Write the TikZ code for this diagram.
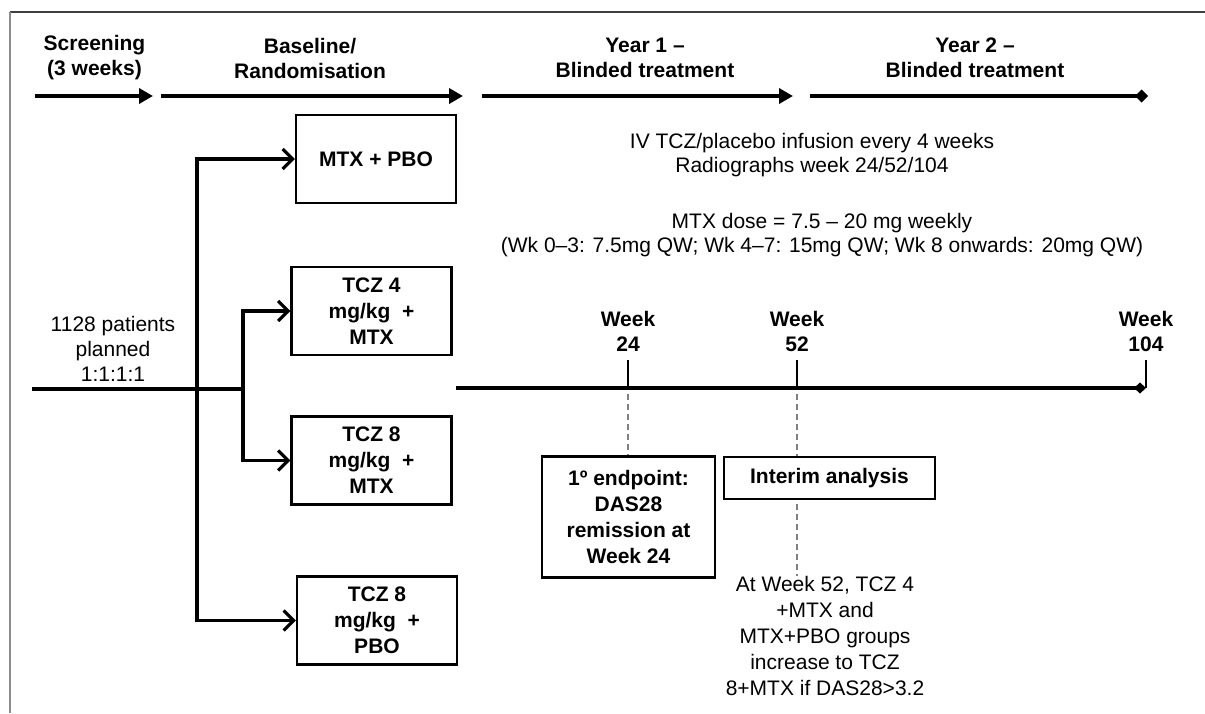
\documentclass[tikz,border=0pt]{standalone}
\usepackage{fontspec}
\setmainfont{Liberation Sans}
\usetikzlibrary{positioning,arrows.meta}

\begin{document}
\begin{tikzpicture}[x=1pt,y=-1pt,node distance=4pt,
  txt/.style={font=\fontsize{21}{25}\selectfont,align=center,inner sep=0pt},
  btxt/.style={font=\fontsize{21}{25}\selectfont\bfseries,align=center,inner sep=0pt},
  armbox/.style={rectangle,draw,line width=2.2pt,minimum width=160pt,minimum height=88pt,font=\fontsize{21}{26}\selectfont\bfseries,align=center,inner sep=2pt},
  notebox/.style={rectangle,draw,line width=2.2pt,font=\fontsize{21}{26}\selectfont\bfseries,align=center,inner sep=2pt},
  phasearrow/.style={line width=4.5pt,-{Triangle[length=14pt,width=15pt]}},
  branch/.style={line width=3.2pt,-{Straight Barb[length=10pt,width=20pt]}},
  dashline/.style={gray,line width=1.2pt,dash pattern=on 6pt off 4pt}]
\useasboundingbox (0,0) rectangle (1205,713);

% frame
\draw[black!75,line width=1.6pt] (10,12) -- (1205,12);
\draw[black!45,line width=1.6pt] (10,12) -- (10,713);

% phases along the top
\node[btxt] (screen) at (94.5,58) {Screening\\(3 weeks)};
\node[btxt] (base) at (310,58) {Baseline/\\Randomisation};
\node[btxt] (yearA) at (645,58) {Year 1 --\\Blinded treatment};
\node[btxt] (yearB) at (975,58) {Year 2 --\\Blinded treatment};

\coordinate (pa0) at (35,96);  \coordinate (pa1) at (153,96);
\coordinate (pb0) at (161,96); \coordinate (pb1) at (463,96);
\coordinate (pc0) at (482,96); \coordinate (pc1) at (793,96);
\coordinate (pd0) at (810,96); \coordinate (pd1) at (1148,96);
\draw[phasearrow] (pa0) -- (pa1);
\draw[phasearrow] (pb0) -- (pb1);
\draw[phasearrow] (pc0) -- (pc1);
\draw[line width=4.5pt,-{Diamond[length=13pt,width=13pt]}] (pd0) -- (pd1);

% randomisation
\node[txt] (pts) at (113,349) {1128 patients\\planned\\1:1:1:1};
\coordinate (start) at (32,389);
\coordinate (jA) at (197,389);
\coordinate (jB) at (243,389);

\node[armbox] (mtxpbo) at (376,159) {MTX + PBO};
\node[armbox] (tczA) at (371.5,311) {TCZ 4\\mg/kg~~+\\MTX};
\node[armbox] (tczB) at (371.5,460.5) {TCZ 8\\mg/kg~~+\\MTX};
\node[armbox] (tczC) at (377,620.5) {TCZ 8\\mg/kg~~+\\PBO};

\draw[line width=3.2pt] (start) -- (jB);
\draw[branch] (jA) |- (mtxpbo.west);
\draw[branch] (jA) |- (tczC.west);
\draw[branch] (jB) |- (tczA.west);
\draw[branch] (jB) |- (tczB.west);

% treatment notes
\node[txt,font=\fontsize{21}{24}\selectfont] (infus) at (812,155) {IV TCZ/placebo infusion every 4 weeks\\Radiographs week 24/52/104};
\node[txt,font=\fontsize{21}{24}\selectfont] (dose) at (822,235) {MTX dose = 7.5 -- 20 mg weekly\\(Wk 0--3: 7.5mg QW; Wk 4--7: 15mg QW; Wk 8 onwards: 20mg QW)};

% timeline
\coordinate (tl0) at (456,388);
\coordinate (wA) at (628,388);
\coordinate (wB) at (797,388);
\coordinate (wC) at (1146,388);
\draw[line width=3.4pt,-{Diamond[length=12pt,width=11pt]}] (tl0) -- (wC);
\foreach \w in {wA,wB,wC}
  \draw[line width=1.6pt] (\w) -- ++(0,-28) coordinate (\w top);
\node[btxt,above=8pt of wAtop] (lblA) {Week\\24};
\node[btxt,above=8pt of wBtop] (lblB) {Week\\52};
\node[btxt,above=8pt of wCtop] (lblC) {Week\\104};

% endpoint and interim analysis
\node[notebox,minimum width=173pt,minimum height=121pt] (endpt) at (628.5,517) {1º endpoint:\\DAS28\\remission at\\Week 24};
\node[notebox,minimum width=211pt,minimum height=42pt] (interim) at (829.5,478) {Interim analysis};
\node[txt,font=\fontsize{21}{26}\selectfont] (swap) at (825,636) {At Week 52, TCZ 4\\+MTX and\\MTX+PBO groups\\increase to TCZ\\8+MTX if DAS28>3.2};

\draw[dashline] (wA) ++(0,6) -- (wA |- endpt.north);
\draw[dashline] (wB) ++(0,6) -- (wB |- interim.north);
\draw[dashline] (wB |- interim.south) ++(0,4) -- (wB |- swap.north);

\end{tikzpicture}
\end{document}
